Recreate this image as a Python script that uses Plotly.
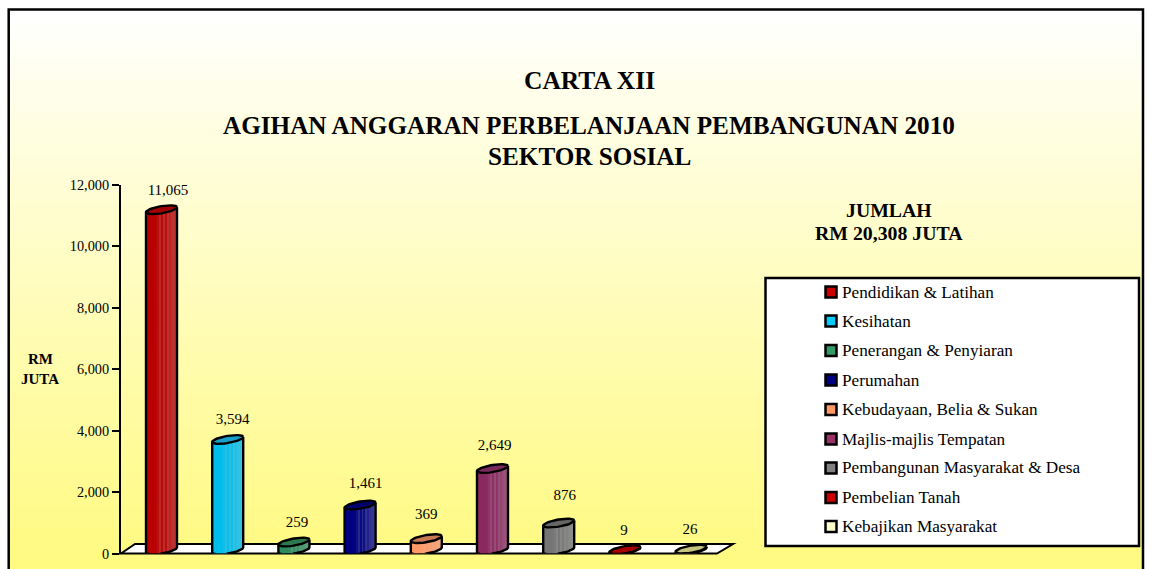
import math
import plotly.graph_objects as go

W, H = 1152, 569
categories = ["Pendidikan & Latihan", "Kesihatan", "Penerangan & Penyiaran", "Perumahan",
              "Kebudayaan, Belia & Sukan", "Majlis-majlis Tempatan",
              "Pembangunan Masyarakat & Desa", "Pembelian Tanah", "Kebajikan Masyarakat"]
values = [11065, 3594, 259, 1461, 369, 2649, 876, 9, 26]
body_colors = ["#B80000", "#00BDEB", "#2E8B5E", "#000080", "#FF9966", "#8A2860", "#747474", "#B00000", "#C8C880"]
top_colors = ["#A00000", "#17A0C8", "#2C7A50", "#000070", "#C97A55", "#7A2A5A", "#666666", "#A80000", "#C4C47C"]
legend_colors = ["#CC0000", "#00CCFF", "#339966", "#000080", "#FF9966", "#993366", "#808080", "#CC0000", "#FFFFCC"]
label_dx = [6.5, 5, 3, 5.5, 0, 2, 6, -1, -1]
label_dy = [22, 23, 22.5, 24.5, 27, 26, 30.5, 22, 22.5]
y_ticks = [0, 2000, 4000, 6000, 8000, 10000, 12000]

SERIF = "Liberation Serif"
X0, X1, Y0, Y1 = 121, 733, 553.5, 184.5
PX_X = 66.2
PX_Y = (Y0 - Y1) / 12000
depth_shift = 7.4 / PX_X
R = 15.5
TILT = 2.5
MINOR = 3.6
LIFT = 3.5


def px(x): return x / W
def py(y): return 1 - y / H


def blend(c, o, a):
    a1 = [int(c[i:i + 2], 16) for i in (1, 3, 5)]
    a2 = [int(o[i:i + 2], 16) for i in (1, 3, 5)]
    return "rgb(%d,%d,%d)" % tuple(round(p * (1 - a) + q * a) for p, q in zip(a1, a2))


band_mix = [0, 0, 0, 0, 0, 0.02, 0.08, 0.2, 0.05, 0.22, 0.08, 0.24, 0.18, 0.24, 0.26, 0.28]
N = len(band_mix)

fig = go.Figure()
for i, (cat, v) in enumerate(zip(categories, values)):
    cx = i + depth_shift
    xs, bases, cols = [], [], []
    for k in range(N):
        u = -1 + (2 * k + 1) / N
        xs.append(cx + u * R / PX_X)
        lo = LIFT + TILT * u - MINOR * math.sqrt(max(0, 1 - u * u))
        bases.append(lo / PX_Y)
        cols.append(blend(body_colors[i], "#C8C8C0", band_mix[k]))
    fig.add_trace(go.Bar(x=xs, y=[v] * N, base=bases, width=2 * R / PX_X / N, name=cat,
                         marker=dict(color=cols, line=dict(width=0)), showlegend=False,
                         hoverinfo="skip"))

for i, v in enumerate(values):
    cx = i + depth_shift
    ox, oy = [cx - R / PX_X], [v + (LIFT - TILT) / PX_Y]
    for k in range(0, 41):
        u = -1 + 2 * k / 40
        ox.append(cx + u * R / PX_X)
        oy.append((LIFT + TILT * u - MINOR * math.sqrt(max(0, 1 - u * u))) / PX_Y)
    ox.append(cx + R / PX_X)
    oy.append(v + (LIFT + TILT) / PX_Y)
    fig.add_trace(go.Scatter(x=ox, y=oy, mode="lines", line=dict(color="black", width=2.4),
                             showlegend=False, hoverinfo="skip", cliponaxis=False))
    ex, ey = [], []
    for k in range(61):
        t = 2 * math.pi * k / 60
        ex.append(cx + R * math.cos(t) / PX_X)
        ey.append(v + (LIFT + TILT * math.cos(t) + MINOR * math.sin(t)) / PX_Y)
    fig.add_trace(go.Scatter(x=ex, y=ey, mode="lines", fill="toself", fillcolor=top_colors[i],
                             line=dict(color="black", width=2.4), showlegend=False,
                             hoverinfo="skip", cliponaxis=False))

fig.add_trace(go.Scatter(
    x=[i + depth_shift + d / PX_X for i, d in enumerate(label_dx)],
    y=[v + d / PX_Y for v, d in zip(values, label_dy)],
    mode="text", text=[f"{v:,}" for v in values], textposition="middle center",
    textfont=dict(family=SERIF, size=15, color="black"), showlegend=False,
    hoverinfo="skip", cliponaxis=False))

shapes = []
STEPS = 80
for k in range(STEPS):
    a = k / (STEPS - 1)
    y0 = 9 + (H - 9) * k / STEPS
    y1 = 9 + (H - 9) * (k + 1) / STEPS + 1
    shapes.append(dict(type="rect", xref="paper", yref="paper", layer="below",
                       x0=px(9), x1=px(1143), y0=py(y0), y1=py(y1),
                       fillcolor=blend("#FFFFFF", "#FFFA80", a ** 0.95), line=dict(width=0)))
shapes.append(dict(type="path", xref="paper", yref="paper", layer="below",
                   path=f"M{px(8.7)},{py(575)} L{px(8.7)},{py(9.5)} L{px(1143)},{py(9.5)} L{px(1143)},{py(575)}",
                   line=dict(color="black", width=2.5)))
shapes.append(dict(type="path", xref="paper", yref="paper", layer="below", fillcolor="white",
                   path=f"M{px(121)},{py(553.5)} L{px(135)},{py(544)} L{px(733)},{py(544)} L{px(717)},{py(553.5)} Z",
                   line=dict(color="black", width=2)))
shapes.append(dict(type="rect", xref="paper", yref="paper", layer="below", fillcolor="white",
                   x0=px(765.5), x1=px(1139), y0=py(278), y1=py(546),
                   line=dict(color="black", width=2.5)))

annotations = []


def note(text, x, y, size, bold=False, anchor="center"):
    annotations.append(dict(text=f"<b>{text}</b>" if bold else text, xref="paper", yref="paper",
                            x=px(x), y=py(y), xanchor=anchor, yanchor="middle", showarrow=False,
                            font=dict(family=SERIF, size=size, color="black"), borderpad=0))


note("CARTA XII", 589, 81, 25.5, True)
note("AGIHAN ANGGARAN PERBELANJAAN PEMBANGUNAN 2010", 589, 126, 25.2, True)
note("SEKTOR SOSIAL", 589, 156, 25.2, True)
note("JUMLAH", 888.5, 210, 19.8, True)
note("RM 20,308 JUTA", 889, 233, 19.8, True)
note("RM", 40, 359, 15, True)
note("JUTA", 40, 379, 15, True)

legend_y = [292, 321, 350.5, 380, 409.5, 439, 468, 497.5, 526.5]
for cat, col, ly in zip(categories, legend_colors, legend_y):
    shapes.append(dict(type="rect", xref="paper", yref="paper", layer="below", fillcolor=col,
                       x0=px(825.5), x1=px(836.5), y0=py(ly - 5.5), y1=py(ly + 5.5),
                       line=dict(color="black", width=2.5)))
    note(cat, 841, ly, 17.2, False, "left")

fig.update_layout(
    width=W, height=H, autosize=False, margin=dict(l=0, r=0, t=0, b=0, autoexpand=False),
    paper_bgcolor="white", plot_bgcolor="rgba(0,0,0,0)", barmode="overlay", showlegend=False,
    shapes=shapes, annotations=annotations,
    xaxis=dict(domain=[px(X0), px(X1)], range=[-0.5, -0.5 + (X1 - X0) / PX_X], visible=False, fixedrange=True),
    yaxis=dict(domain=[py(Y0), py(Y1)], range=[0, 12000], tickvals=y_ticks, tickformat=",",
               ticks="outside", ticklen=7, tickwidth=2, tickcolor="black", showline=True,
               linecolor="black", linewidth=2, showgrid=False, zeroline=False,
               tickfont=dict(family=SERIF, size=14.3, color="black"), fixedrange=True),
)
fig.write_html("out.html", config={"displayModeBar": False},
               post_script="document.body.style.margin='0';document.body.style.overflow='hidden';")
